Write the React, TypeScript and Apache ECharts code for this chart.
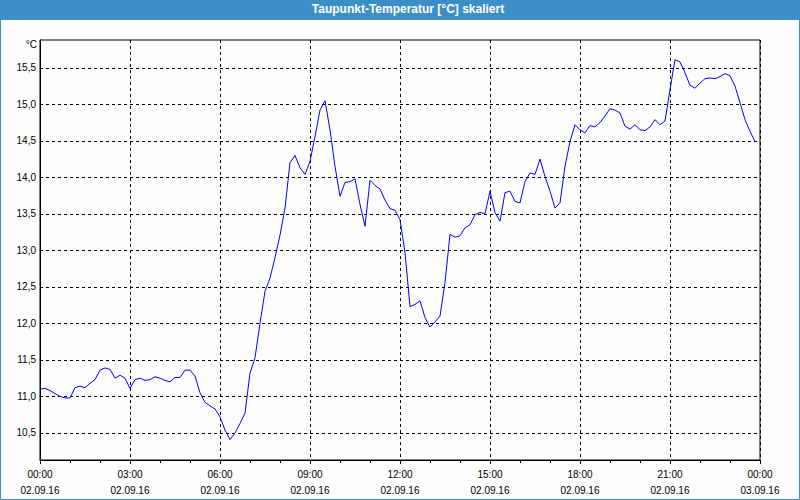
import React, { useEffect, useRef } from 'react';
import * as echarts from 'echarts';

const TITLE = 'Taupunkt-Temperatur [°C] skaliert';
const UNIT = '°C';
const START_DATE = '02.09.16';
const END_DATE = '03.09.16';
const STEP_MINUTES = 10;
const Y_TICKS = [10.5, 11.0, 11.5, 12.0, 12.5, 13.0, 13.5, 14.0, 14.5, 15.0, 15.5];

// Dew point values, 10-minute steps, 00:00 - 05:50
const values00to06 = [
  11.10, 11.11, 11.08, 11.04, 11.00, 10.98, 10.98, 11.12, 11.14, 11.12, 11.18, 11.23,
  11.36, 11.39, 11.37, 11.25, 11.29, 11.25, 11.11, 11.23, 11.25, 11.22, 11.23, 11.27,
  11.25, 11.22, 11.20, 11.26, 11.26, 11.36, 11.36, 11.28, 11.05, 10.92, 10.87, 10.83,
];
// 06:00 - 11:50
const values06to12 = [
  10.72, 10.54, 10.41, 10.50, 10.63, 10.77, 11.32, 11.53, 12.00, 12.44, 12.62, 12.90,
  13.21, 13.58, 14.20, 14.30, 14.13, 14.04, 14.22, 14.56, 14.92, 15.05, 14.65, 14.15,
  13.74, 13.93, 13.94, 13.98, 13.63, 13.33, 13.96, 13.89, 13.84, 13.69, 13.57, 13.55,
];
// 12:00 - 17:50
const values12to18 = [
  13.42, 12.97, 12.23, 12.26, 12.31, 12.08, 11.95, 12.02, 12.10, 12.56, 13.22, 13.18,
  13.20, 13.31, 13.35, 13.49, 13.52, 13.50, 13.81, 13.52, 13.40, 13.79, 13.81, 13.67,
  13.65, 13.94, 14.06, 14.04, 14.25, 14.01, 13.81, 13.58, 13.65, 14.15, 14.49, 14.72,
];
// 18:00 - 23:50
const values18to24 = [
  14.65, 14.61, 14.71, 14.69, 14.75, 14.84, 14.94, 14.92, 14.88, 14.70, 14.66, 14.72,
  14.65, 14.64, 14.69, 14.79, 14.72, 14.77, 15.20, 15.61, 15.58, 15.43, 15.26, 15.22,
  15.29, 15.35, 15.36, 15.35, 15.38, 15.42, 15.39, 15.25, 15.02, 14.79, 14.63, 14.49,
];

const allValues = [...values00to06, ...values06to12, ...values12to18, ...values18to24];

export default function App() {
  const ref = useRef<HTMLDivElement>(null);
  useEffect(() => {
    document.body.style.margin = '0';
    if (!ref.current) return;
    const chart = echarts.init(ref.current, undefined, { renderer: 'svg' });
    const data = allValues.map((v, i) => [i * STEP_MINUTES, v]);
    const fontFamily = '"Liberation Sans", Arial, sans-serif';
    chart.setOption({
      animation: false,
      backgroundColor: '#fcfdfc',
      grid: {
        left: 40, right: 40, top: 40, bottom: 40,
        show: true, borderColor: '#000', borderWidth: 1, backgroundColor: 'transparent',
      },
      graphic: [
        { type: 'rect', shape: { x: 0, y: 0, width: 800, height: 20 }, style: { fill: '#3c8fc6' }, z: 0 },
        { type: 'rect', shape: { x: 0.5, y: 0.5, width: 799, height: 499 }, style: { fill: 'none', stroke: '#3c8fc6', lineWidth: 1 }, z: 0 },
        {
          type: 'text', x: 408, y: 9,
          style: { text: TITLE, fill: '#fff', font: `bold 12px ${fontFamily}`, align: 'center', verticalAlign: 'middle' },
        },
        {
          type: 'text', x: 37, y: 44,
          style: { text: UNIT, fill: '#000', font: `10px ${fontFamily}`, align: 'right', verticalAlign: 'middle' },
        },
      ],
      xAxis: {
        type: 'value', min: 0, max: 1440, interval: 180,
        axisLine: { show: true, lineStyle: { color: '#000', width: 1 } },
        axisTick: { show: true, length: 4, lineStyle: { color: '#000' } },
        minorTick: { show: true, splitNumber: 3, length: 3, lineStyle: { color: '#000' } },
        splitLine: { show: true, lineStyle: { color: '#000', type: [3, 3], width: 1 } },
        axisLabel: {
          margin: 6, color: '#000', fontFamily, fontSize: 10, lineHeight: 16,
          formatter: (v: number) => {
            const h = Math.round(v / 60) % 24;
            const hh = (h < 10 ? '0' : '') + h + ':00';
            return hh + '\n' + (v >= 1440 ? END_DATE : START_DATE);
          },
        },
      },
      yAxis: {
        type: 'value', min: 10.13, max: 15.88,
        axisLine: { show: true, lineStyle: { color: '#000', width: 1 } },
        axisTick: { show: false, customValues: Y_TICKS },
        splitLine: { show: true, lineStyle: { color: '#000', type: [3, 3], width: 1 } },
        axisLabel: {
          customValues: Y_TICKS, margin: 4, color: '#000', fontFamily, fontSize: 10,
          formatter: (v: number) => v.toFixed(1).replace('.', ','),
        },
      },
      series: [
        {
          type: 'line', data, showSymbol: false, symbol: 'none',
          lineStyle: { color: '#0000ff', width: 1 },
          z: 5,
        },
      ],
    });
    return () => chart.dispose();
  }, []);
  return <div ref={ref} style={{ position: 'absolute', left: 0, top: 0, width: 800, height: 500 }} />;
}
